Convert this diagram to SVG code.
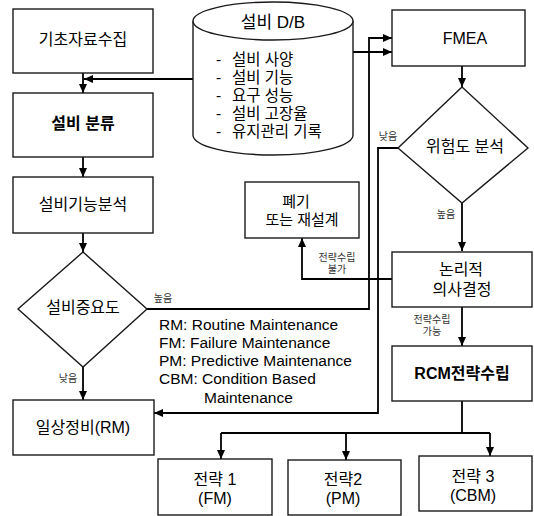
<svg xmlns="http://www.w3.org/2000/svg" width="534" height="516" viewBox="0 0 534 516">
<defs>
<marker id="ah" markerUnits="userSpaceOnUse" markerWidth="10" markerHeight="10" viewBox="0 0 10 10" refX="9" refY="5" orient="auto">
<path d="M0,1 L9,5 L0,9 Z" fill="#000"/>
</marker>
<style>
.box{fill:#fff;stroke:#1a1a1a;stroke-width:1.4}
.c{fill:none;stroke:#000;stroke-width:1.8}
text{font-family:"Liberation Sans","Noto Sans CJK KR",sans-serif;fill:#000;dominant-baseline:central}
.t{font-size:16px;text-anchor:middle}
.b{font-weight:bold}
.s{font-size:10px;fill:#333;text-anchor:middle}
.l{font-size:15.5px}
.d{font-size:15.5px}
</style>
</defs>
<rect width="534" height="516" fill="#fff"/>
<g id="connectors">
<path class="c" d="M83,73 V93" marker-end="url(#ah)"/>
<path class="c" d="M193,79 H84" marker-end="url(#ah)"/>
<path class="c" d="M83,157 V177" marker-end="url(#ah)"/>
<path class="c" d="M83,233 V252" marker-end="url(#ah)"/>
<path class="c" d="M83,367 V400" marker-end="url(#ah)"/>
<path class="c" d="M147,309 H369 V38 H392" marker-end="url(#ah)"/>
<path class="c" d="M353,52 H392" marker-end="url(#ah)"/>
<path class="c" d="M462,66 V87" marker-end="url(#ah)"/>
<path class="c" d="M398,148 H378 V413 H154" marker-end="url(#ah)"/>
<path class="c" d="M462,203 V251" marker-end="url(#ah)"/>
<path class="c" d="M392,279 H302 V238" marker-end="url(#ah)"/>
<path class="c" d="M462,307 V346" marker-end="url(#ah)"/>
<path class="c" d="M462,401 V433"/>
<path class="c" d="M221,433 H490"/>
<path class="c" d="M221,433 V459" marker-end="url(#ah)"/>
<path class="c" d="M346,433 V460" marker-end="url(#ah)"/>
<path class="c" d="M490,433 V456" marker-end="url(#ah)"/>
</g>
<g id="labels">
<text class="s" x="163" y="298">높음</text>
<text class="s" x="68" y="378">낮음</text>
<text class="s" x="388" y="136">낮음</text>
<text class="s" x="446" y="214">높음</text>
<text class="s" x="337" y="257">전략수립</text>
<text class="s" x="337" y="269">불가</text>
<text class="s" x="432" y="319">전략수립</text>
<text class="s" x="432" y="331">가능</text>
</g>
<g id="legend">
<text class="l" x="159" y="324">RM: Routine Maintenance</text>
<text class="l" x="159" y="342">FM: Failure Maintenance</text>
<text class="l" x="159" y="360">PM: Predictive Maintenance</text>
<text class="l" x="159" y="378">CBM: Condition Based</text>
<text class="l" x="204" y="397">Maintenance</text>
</g>
<g id="n-collect">
<rect class="box" x="13" y="9" width="140" height="64"/>
<text class="t" x="83" y="39">기초자료수집</text>
</g>
<g id="n-classify">
<rect class="box" x="13" y="93" width="140" height="64"/>
<text class="t b" x="83" y="123">설비 분류</text>
</g>
<g id="n-function">
<rect class="box" x="13" y="177" width="140" height="56"/>
<text class="t" x="83" y="204">설비기능분석</text>
</g>
<g id="n-importance">
<path class="box" d="M83,252 L147,309 L83,367 L18,309 Z"/>
<text class="t" x="83" y="307">설비중요도</text>
</g>
<g id="n-routine">
<rect class="box" x="13" y="400" width="141" height="55"/>
<text class="t" x="83" y="427">일상정비(RM)</text>
</g>
<g id="n-db">
<path class="box" d="M193,21 V135 A80,20 0 0 0 353,135 V21"/>
<ellipse class="box" cx="273" cy="21" rx="80" ry="19"/>
<text class="t" x="273" y="22" style="font-size:17px">설비 D/B</text>
<text class="d" x="216" y="59">-<tspan x="232">설비 사양</tspan></text>
<text class="d" x="216" y="77">-<tspan x="232">설비 기능</tspan></text>
<text class="d" x="216" y="95">-<tspan x="232">요구 성능</tspan></text>
<text class="d" x="216" y="113">-<tspan x="232">설비 고장율</tspan></text>
<text class="d" x="216" y="131">-<tspan x="232">유지관리 기록</tspan></text>
</g>
<g id="n-fmea">
<rect class="box" x="392" y="10" width="133" height="56"/>
<text class="t" x="465" y="38">FMEA</text>
</g>
<g id="n-risk">
<path class="box" d="M462,87 L528,148 L462,203 L398,148 Z"/>
<text class="t" x="465" y="146">위험도 분석</text>
</g>
<g id="n-dispose">
<rect class="box" x="245" y="182" width="114" height="56"/>
<text class="t" x="296" y="201" style="font-size:15px">폐기</text>
<text class="t" x="302" y="219" style="font-size:15px">또는 재설계</text>
</g>
<g id="n-logic">
<rect class="box" x="392" y="252" width="140" height="55"/>
<text class="t" x="461" y="269">논리적</text>
<text class="t" x="462" y="289">의사결정</text>
</g>
<g id="n-rcm">
<rect class="box" x="392" y="346" width="140" height="55"/>
<text class="t b" x="462" y="373">RCM전략수립</text>
</g>
<g id="n-s1">
<rect class="box" x="158" y="459" width="114" height="56"/>
<text class="t" x="215" y="479">전략 1</text>
<text class="t" x="215" y="498">(FM)</text>
</g>
<g id="n-s2">
<rect class="box" x="288" y="460" width="113" height="55"/>
<text class="t" x="343" y="479">전략2</text>
<text class="t" x="343" y="498">(PM)</text>
</g>
<g id="n-s3">
<rect class="box" x="419" y="456" width="113" height="55"/>
<text class="t" x="473" y="476">전략 3</text>
<text class="t" x="473" y="495">(CBM)</text>
</g>
</svg>
